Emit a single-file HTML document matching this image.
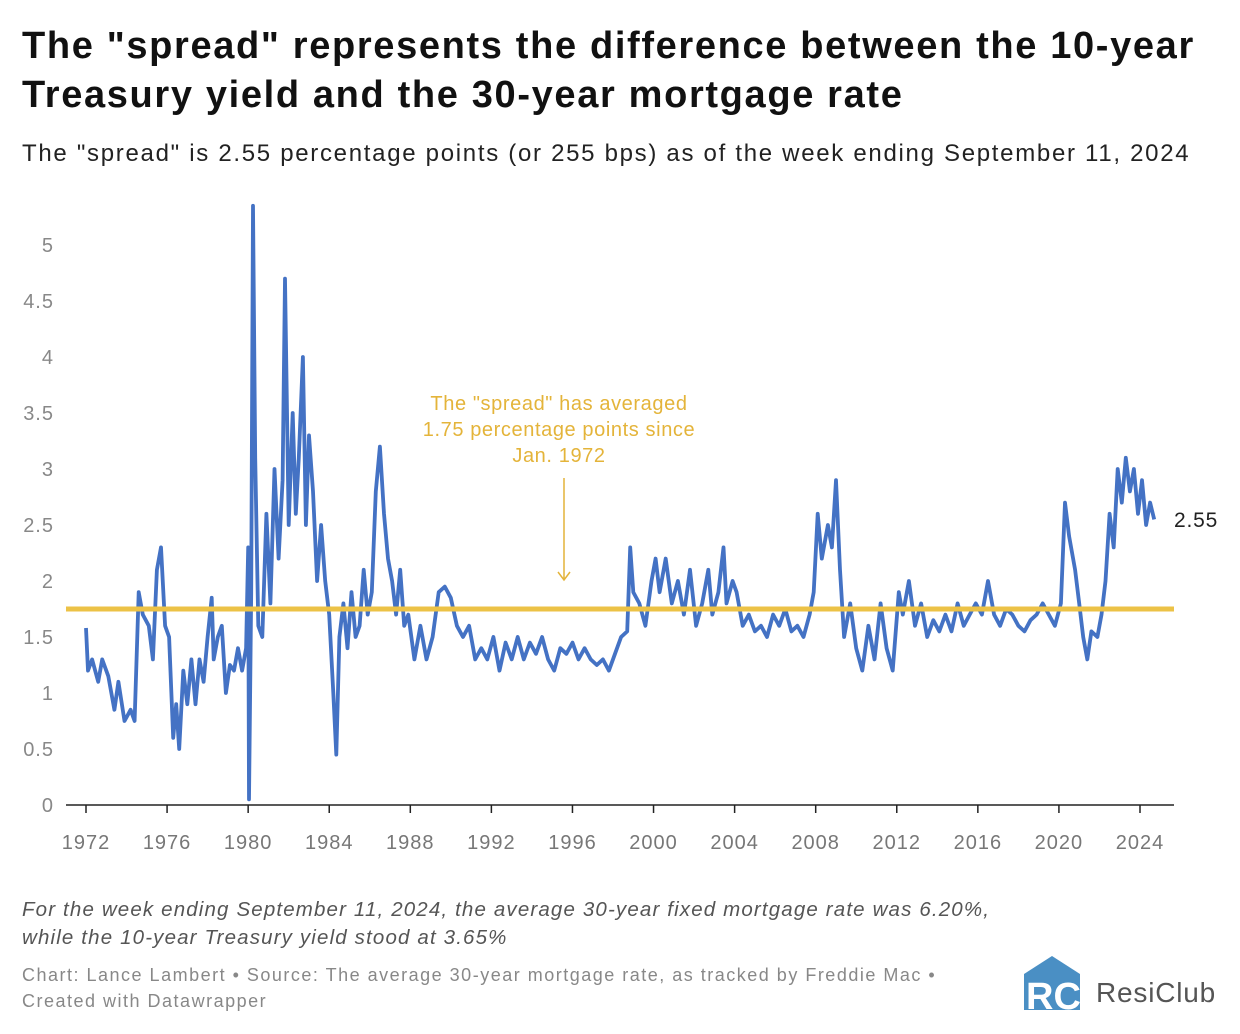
<!DOCTYPE html>
<html><head><meta charset="utf-8"><style>
body{margin:0;background:#fff;width:1240px;height:1034px;overflow:hidden;font-family:"Liberation Sans",sans-serif}
h1{position:absolute;left:22px;top:22px;margin:0;font-size:38px;line-height:49px;font-weight:bold;color:#111;letter-spacing:1.65px;white-space:nowrap}
.sub{position:absolute;left:22px;top:140px;font-size:24px;color:#222;letter-spacing:1.7px;white-space:nowrap}
.note{position:absolute;left:22px;top:896px;font-size:20.5px;line-height:28px;font-style:italic;color:#555;letter-spacing:1.15px;white-space:nowrap}
.src{position:absolute;left:22px;top:962px;font-size:18px;line-height:26px;color:#888;letter-spacing:1.5px;white-space:nowrap}
</style></head><body>
<h1>The "spread" represents the difference between the 10-year<br>Treasury yield and the 30-year mortgage rate</h1>
<div class="sub">The "spread" is 2.55 percentage points (or 255 bps) as of the week ending September 11, 2024</div>
<svg id="chart" width="1240" height="1034" style="position:absolute;left:0;top:0" font-family="Liberation Sans, sans-serif"></svg>
<div class="note">For the week ending September 11, 2024, the average 30-year fixed mortgage rate was 6.20%,<br>while the 10-year Treasury yield stood at 3.65%</div>
<div class="src">Chart: Lance Lambert • Source: The average 30-year mortgage rate, as tracked by Freddie Mac •<br>Created with Datawrapper</div>
<svg style="position:absolute;left:1022px;top:952px" width="215" height="62">
<polygon points="2,22 30,4 58,22 58,58 2,58" fill="#4a8fc4"/>
<text x="4" y="57" font-size="38" font-weight="bold" fill="#fff" font-family="Liberation Sans">RC</text>
<text x="74" y="50" font-size="28" fill="#555" font-family="Liberation Sans" letter-spacing="0.8">ResiClub</text>
</svg>
<script>
const years=[1972,1972.1,1972.3,1972.6,1972.8,1973.1,1973.4,1973.6,1973.9,1974.2,1974.4,1974.6,1974.8,1975.1,1975.3,1975.5,1975.7,1975.9,1976.1,1976.3,1976.45,1976.6,1976.8,1977.0,1977.2,1977.4,1977.6,1977.8,1978.0,1978.2,1978.3,1978.5,1978.7,1978.9,1979.1,1979.3,1979.5,1979.7,1979.9,1980.0,1980.04,1980.15,1980.24,1980.35,1980.5,1980.7,1980.9,1981.1,1981.3,1981.5,1981.7,1981.82,1982.0,1982.2,1982.35,1982.5,1982.7,1982.85,1983.0,1983.2,1983.4,1983.6,1983.8,1984.0,1984.2,1984.35,1984.5,1984.7,1984.9,1985.1,1985.3,1985.5,1985.7,1985.9,1986.1,1986.3,1986.5,1986.7,1986.9,1987.1,1987.3,1987.5,1987.7,1987.9,1988.2,1988.5,1988.8,1989.1,1989.4,1989.7,1990.0,1990.3,1990.6,1990.9,1991.2,1991.5,1991.8,1992.1,1992.4,1992.7,1993.0,1993.3,1993.6,1993.9,1994.2,1994.5,1994.8,1995.1,1995.4,1995.7,1996.0,1996.3,1996.6,1996.9,1997.2,1997.5,1997.8,1998.1,1998.4,1998.7,1998.85,1999.0,1999.3,1999.6,1999.9,2000.1,2000.3,2000.6,2000.9,2001.2,2001.5,2001.8,2002.1,2002.4,2002.7,2002.9,2003.2,2003.45,2003.6,2003.9,2004.1,2004.4,2004.7,2005.0,2005.3,2005.6,2005.9,2006.2,2006.5,2006.8,2007.1,2007.4,2007.7,2007.9,2008.1,2008.3,2008.6,2008.8,2009.0,2009.2,2009.4,2009.7,2010.0,2010.3,2010.6,2010.9,2011.2,2011.5,2011.8,2012.1,2012.3,2012.6,2012.9,2013.2,2013.5,2013.8,2014.1,2014.4,2014.7,2015.0,2015.3,2015.6,2015.9,2016.2,2016.5,2016.8,2017.1,2017.4,2017.7,2018.0,2018.3,2018.6,2018.9,2019.2,2019.5,2019.8,2020.1,2020.3,2020.5,2020.8,2021.0,2021.2,2021.4,2021.6,2021.9,2022.1,2022.3,2022.5,2022.7,2022.9,2023.1,2023.3,2023.5,2023.7,2023.9,2024.1,2024.3,2024.5,2024.7];
const spread=[1.58,1.2,1.3,1.1,1.3,1.15,0.85,1.1,0.75,0.85,0.75,1.9,1.7,1.6,1.3,2.1,2.3,1.6,1.5,0.6,0.9,0.5,1.2,0.9,1.3,0.9,1.3,1.1,1.5,1.85,1.3,1.5,1.6,1.0,1.25,1.2,1.4,1.2,1.4,2.3,0.05,1.9,5.35,3.1,1.6,1.5,2.6,1.8,3.0,2.2,2.9,4.7,2.5,3.5,2.6,3.1,4.0,2.5,3.3,2.8,2.0,2.5,2.0,1.7,1.0,0.45,1.5,1.8,1.4,1.9,1.5,1.6,2.1,1.7,1.9,2.8,3.2,2.6,2.2,2.0,1.7,2.1,1.6,1.7,1.3,1.6,1.3,1.5,1.9,1.95,1.85,1.6,1.5,1.6,1.3,1.4,1.3,1.5,1.2,1.45,1.3,1.5,1.3,1.45,1.35,1.5,1.3,1.2,1.4,1.35,1.45,1.3,1.4,1.3,1.25,1.3,1.2,1.35,1.5,1.55,2.3,1.9,1.8,1.6,2.0,2.2,1.9,2.2,1.8,2.0,1.7,2.1,1.6,1.8,2.1,1.7,1.9,2.3,1.8,2.0,1.9,1.6,1.7,1.55,1.6,1.5,1.7,1.6,1.75,1.55,1.6,1.5,1.7,1.9,2.6,2.2,2.5,2.3,2.9,2.1,1.5,1.8,1.4,1.2,1.6,1.3,1.8,1.4,1.2,1.9,1.7,2.0,1.6,1.8,1.5,1.65,1.55,1.7,1.55,1.8,1.6,1.7,1.8,1.7,2.0,1.7,1.6,1.75,1.7,1.6,1.55,1.65,1.7,1.8,1.7,1.6,1.8,2.7,2.4,2.1,1.8,1.5,1.3,1.55,1.5,1.7,2.0,2.6,2.3,3.0,2.7,3.1,2.8,3.0,2.6,2.9,2.5,2.7,2.55];
const yTicks=[0,0.5,1,1.5,2,2.5,3,3.5,4,4.5,5];
const xTicks=[1972,1976,1980,1984,1988,1992,1996,2000,2004,2008,2012,2016,2020,2024];
const average=[1.75];
const lastLabel=["2.55"];
const NS='http://www.w3.org/2000/svg';
const svg=document.getElementById('chart');
const X=y=>86+(y-1972)*(1140-86)/52;
const Y=v=>805-v*112;
function mk(t,a,txt){const e=document.createElementNS(NS,t);for(const k in a)e.setAttribute(k,a[k]);if(txt!==undefined)e.textContent=txt;svg.appendChild(e);return e;}
yTicks.forEach(v=>{const e=mk('text',{x:54,y:Y(v)+7,'text-anchor':'end','font-size':20,fill:'#888','letter-spacing':1},String(v));

});
const ax=mk('line',{x1:66,x2:1174,y1:805,y2:805,stroke:'#222','stroke-width':1.5});


xTicks.forEach(v=>{const t=mk('line',{x1:X(v),x2:X(v),y1:805,y2:813,stroke:'#222','stroke-width':1.5});


const e=mk('text',{x:X(v),y:849,'text-anchor':'middle','font-size':20,fill:'#777','letter-spacing':1},String(v));

});
let d='';years.forEach((y,i)=>{d+=(i?'L':'M')+X(y).toFixed(1)+','+Y(spread[i]).toFixed(1);});
const p=mk('path',{d:d,fill:'none',stroke:'#4472c4','stroke-width':3.8,'stroke-linejoin':'round'});


const av=mk('line',{x1:66,x2:1174,y1:Y(average[0]),y2:Y(average[0]),stroke:'#ecc246','stroke-width':5});


['The "spread" has averaged','1.75 percentage points since','Jan. 1972'].forEach((s,i)=>{const e=mk('text',{x:559,y:410+i*26,'text-anchor':'middle','font-size':20,fill:'#e4b43a','letter-spacing':0.6},s);

});
const ar=mk('path',{d:'M564,478L564,580M558,572L564,580L570,572',stroke:'#e4b43a','stroke-width':1.5,fill:'none'});


const ll=mk('text',{x:1174,y:527,'font-size':21,fill:'#222','letter-spacing':0.8},lastLabel[0]);


</script>
</body></html>
